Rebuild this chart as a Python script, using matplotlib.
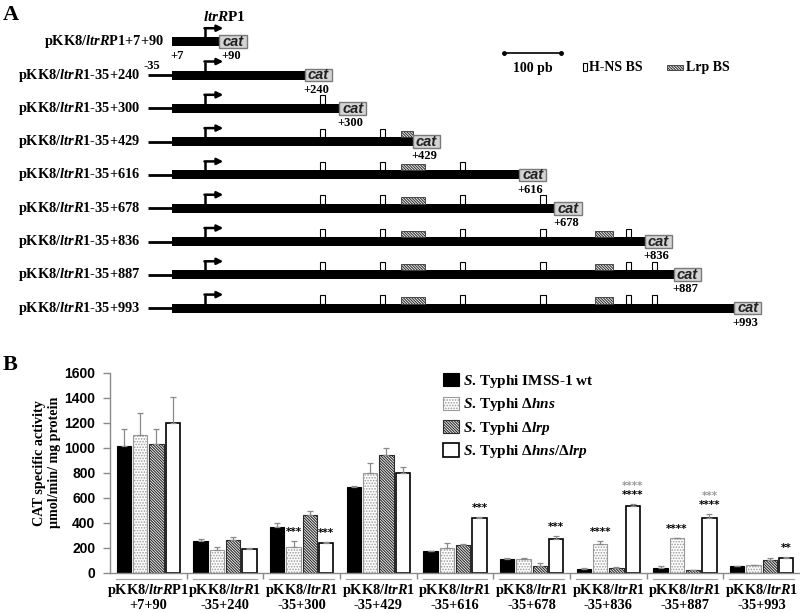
import matplotlib
matplotlib.use('Agg')
import matplotlib.pyplot as plt
from matplotlib.patches import Rectangle, Patch
import matplotlib.transforms as mtransforms
import numpy as np

plt.rcParams['mathtext.fontset'] = 'custom'
plt.rcParams['mathtext.it'] = 'Liberation Serif:bold:italic'
plt.rcParams['mathtext.rm'] = 'Liberation Serif:bold'
plt.rcParams['mathtext.bf'] = 'Liberation Serif:bold'
plt.rcParams['hatch.linewidth'] = 0.8

SERIF = 'Liberation Serif'
HATCH = '\\' * 12

# ---------------- Panel A data ----------------
construct_labels = ['pKK8/$\\mathit{ltrR}$P1+7+90'] + \
    ['pKK8/$\\mathit{ltrR1}$-35+%d' % e for e in [240, 300, 429, 616, 678, 836, 887, 993]]
construct_start = [7, -35, -35, -35, -35, -35, -35, -35, -35]
construct_end = [90, 240, 300, 429, 616, 678, 836, 887, 993]
thick_start = 7
tss_bp = 65
hns_sites = [271, 377, 517, 658, 808, 854]
lrp_sites = [(409, 450), (749, 780)]
scale_bar = (590, 690)

# ---------------- Panel B data ----------------
group_line1 = ['pKK8/$\\mathit{ltrR}$P1'] + ['pKK8/$\\mathit{ltrR1}$'] * 8
group_line2 = ['+7+90', '-35+240', '-35+300', '-35+429', '-35+616',
               '-35+678', '-35+836', '-35+887', '-35+993']
series_names = ['$\\mathit{S}$. Typhi IMSS-1 wt',
                '$\\mathit{S}$. Typhi \u0394$\\mathit{hns}$',
                '$\\mathit{S}$. Typhi \u0394$\\mathit{lrp}$',
                '$\\mathit{S}$. Typhi \u0394$\\mathit{hns}$/\u0394$\\mathit{lrp}$']
wt = [1015, 251, 368, 688, 171, 109, 32, 37, 53]
wt_err = [132, 16, 27, 5, 2, 8, 2, 16, 2]
hns = [1105, 182, 203, 795, 200, 109, 229, 275, 59]
hns_err = [170, 21, 48, 85, 35, 8, 24, 3, 3]
lrp = [1027, 259, 459, 944, 221, 53, 40, 21, 101]
lrp_err = [120, 24, 34, 56, 6, 22, 2, 3, 16]
dbl = [1195, 193, 240, 795, 437, 267, 531, 437, 115]
dbl_err = [208, 2, 3, 48, 11, 26, 18, 32, 8]
# (group, series, stars)
sig_black = [(2, 1, '***'), (2, 3, '***'), (4, 3, '***'), (5, 3, '***'),
             (6, 1, '****'), (6, 3, '****'), (7, 1, '****'), (7, 3, '****'),
             (8, 3, '**')]
sig_gray = [(6, 3, '****'), (7, 3, '***')]

W, H = 800, 613
fig = plt.figure(figsize=(8, 6.13), dpi=100)

# ================= Panel A =================
px_per_bp = 0.57
x0_px = 168
row0_px, row_step = 41.7, 33.3
axA = fig.add_axes([0, 1 - 360 / H, 1, 360 / H])
axA.set_xlim(-x0_px / px_per_bp, (W - x0_px) / px_per_bp)
axA.set_ylim((360 - row0_px) / row_step, -row0_px / row_step)
axA.axis('off')

bar_h = 9 / row_step
for i, (lab, st, en) in enumerate(zip(construct_labels, construct_start, construct_end)):
    if st < thick_start:
        axA.plot([st, thick_start], [i, i], color='k', lw=2.0, solid_capstyle='butt')
    axA.add_patch(Rectangle((thick_start, i - bar_h / 2), en - thick_start, bar_h,
                            fc='k', ec='k', lw=0))
    # cat box
    axA.add_patch(Rectangle((en, i - 0.19), 48, 0.38, fc='#d4d4d4', ec='#7a7a7a', lw=1.0, zorder=3))
    axA.text(en + 24, i + 0.01, 'cat', ha='center', va='center', fontsize=10.5,
             family='Liberation Sans', weight='bold', style='italic', color='#222222', zorder=4)
    # TSS arrow
    ytop = i - bar_h / 2
    yarr = ytop - 0.27
    axA.plot([tss_bp, tss_bp], [ytop, yarr], color='k', lw=1.8, solid_capstyle='butt')
    axA.annotate('', xy=(tss_bp + 32, yarr), xytext=(tss_bp - 1, yarr),
                 arrowprops=dict(arrowstyle='-|>', lw=1.8, color='k', mutation_scale=9,
                                 shrinkA=0, shrinkB=0))
    # H-NS sites
    for s in hns_sites:
        if s < en:
            axA.add_patch(Rectangle((s - 4.5, ytop - 0.25), 9, 0.25, fc='white', ec='k', lw=0.8))
    for a, b in lrp_sites:
        if a < en:
            axA.add_patch(Rectangle((a, ytop - 0.19), min(b, en) - a, 0.19, fc='white',
                                    ec='#333333', lw=0.6, hatch=HATCH))
    axA.text(st - 14, i, lab, ha='right', va='center', fontsize=10.4, family=SERIF, weight='bold')
    axA.text(en + 20, i + 0.44, '+%d' % en, ha='center', va='center', fontsize=9,
             family=SERIF, weight='bold')

axA.text(thick_start + 9, 0.44, '+%d' % thick_start, ha='center', va='center', fontsize=9,
         family=SERIF, weight='bold')
axA.text(construct_start[1] + 7, 1 - 0.27, '%d' % construct_start[1], ha='center', va='center',
         fontsize=9, family=SERIF, weight='bold')
axA.text(tss_bp - 4, -0.74, '$\\mathit{ltrR}$P1', ha='left', va='center', fontsize=11,
         family=SERIF, weight='bold')

# scale bar & legend
axA.plot(list(scale_bar), [0.34, 0.34], color='k', lw=1.2, marker='o', ms=2.5)
axA.text(np.mean(scale_bar), 0.79, '%d pb' % (scale_bar[1] - scale_bar[0]), ha='center',
         va='center', fontsize=10, family=SERIF, weight='bold')
axA.add_patch(Rectangle((728, 0.64), 7, 0.24, fc='white', ec='k', lw=0.8))
axA.text(739, 0.77, 'H-NS BS', ha='left', va='center', fontsize=10, family=SERIF, weight='bold')
axA.add_patch(Rectangle((875, 0.70), 28, 0.15, fc='white', ec='#333333', lw=0.6, hatch=HATCH))
axA.text(909, 0.77, 'Lrp BS', ha='left', va='center', fontsize=10, family=SERIF, weight='bold')

# ================= Panel B =================
ax = fig.add_axes([110 / W, 1 - 572.7 / H, 690 / W, 200 / H])
n = len(wt)
x = np.arange(n)
step, width = 0.213, 0.183
offsets = (np.arange(4) - 1.5) * step
styles = [dict(color='black', edgecolor='black', lw=0.8),
          dict(color='white', edgecolor='#9a9a9a', hatch='......', lw=0.8),
          dict(color='white', edgecolor='#2a2a2a', hatch=HATCH, lw=0.8),
          dict(color='white', edgecolor='black', lw=1.2)]
data = [wt, hns, lrp, dbl]
errs = [wt_err, hns_err, lrp_err, dbl_err]
handles = []
for k in range(4):
    ax.bar(x + offsets[k], data[k], width, yerr=[np.zeros(n), errs[k]],
           error_kw=dict(ecolor='#8a8a8a', elinewidth=0.9, capsize=2.2, capthick=0.9),
           **styles[k])
    handles.append(Patch(facecolor=styles[k]['color'], edgecolor=styles[k]['edgecolor'],
                         hatch=styles[k].get('hatch'), lw=styles[k]['lw']))

def top_of(g, s):
    return data[s][g] + errs[s][g]

for g, s, txt in sig_black:
    ax.annotate(txt, xy=(g + offsets[s], top_of(g, s)), xytext=(0, 6.5),
                textcoords='offset points', ha='center', va='center', fontsize=7.5,
                weight='bold', family='DejaVu Sans', color='black')
for g, s, txt in sig_gray:
    ax.annotate(txt, xy=(g + offsets[s], top_of(g, s)), xytext=(0, 13),
                textcoords='offset points', ha='center', va='center', fontsize=7.5,
                weight='bold', family='DejaVu Sans', color='#9a9a9a')

ax.set_xlim(-0.5, n - 0.5)
ax.set_ylim(0, 1600)
ax.set_yticks(np.arange(0, 1601, 200))
for lbl in ax.get_yticklabels():
    lbl.set_fontfamily('Liberation Sans')
    lbl.set_fontweight('bold')
    lbl.set_fontsize(10)
ax.tick_params(axis='y', colors='#8a8a8a', length=5, width=1, pad=5.5, labelcolor='black')
ax.set_xticks(x)
ax.set_xticklabels([])
ax.tick_params(axis='x', which='major', length=0)
ax.set_xticks(np.arange(0.5, n - 0.5, 1), minor=True)
ax.tick_params(axis='x', which='minor', length=4, width=1, color='#8a8a8a', direction='out')
for sp in ['top', 'right']:
    ax.spines[sp].set_visible(False)
for sp in ['left', 'bottom']:
    ax.spines[sp].set_color('#8a8a8a')
    ax.spines[sp].set_linewidth(1)

trans = mtransforms.blended_transform_factory(ax.transData, ax.transAxes)
for i in range(n):
    ax.plot([i - 0.42, i + 0.42], [-0.0315, -0.0315], color='#a0a0a0', lw=0.8,
            transform=trans, clip_on=False)
    ax.text(i, -0.091, group_line1[i], ha='center', va='center', fontsize=10.4,
            family=SERIF, weight='bold', transform=trans)
    ax.text(i, -0.166, group_line2[i], ha='center', va='center', fontsize=10.4,
            family=SERIF, weight='bold', transform=trans)

ax.text(-63 / 690, 0.55, 'CAT specific activity\n\u00b5mol/min/ mg protein', rotation=90,
        ha='center', va='center', fontsize=10.2, family=SERIF, weight='bold',
        linespacing=1.15, transform=ax.transAxes)

fig.legend(handles, series_names, loc='upper left', bbox_to_anchor=(443 / W, 1 - 373 / H),
           frameon=False, prop=dict(family=SERIF, weight='bold', size=11),
           handlelength=1.05, handleheight=0.95, handletextpad=0.25, labelspacing=0.42,
           borderpad=0, borderaxespad=0)

fig.text(3 / W, 1 - 15 / H, 'A', fontsize=16, family=SERIF, weight='bold', va='center')
fig.text(3 / W, 1 - 365 / H, 'B', fontsize=16, family=SERIF, weight='bold', va='center')

fig.savefig('out.png', dpi=100)
